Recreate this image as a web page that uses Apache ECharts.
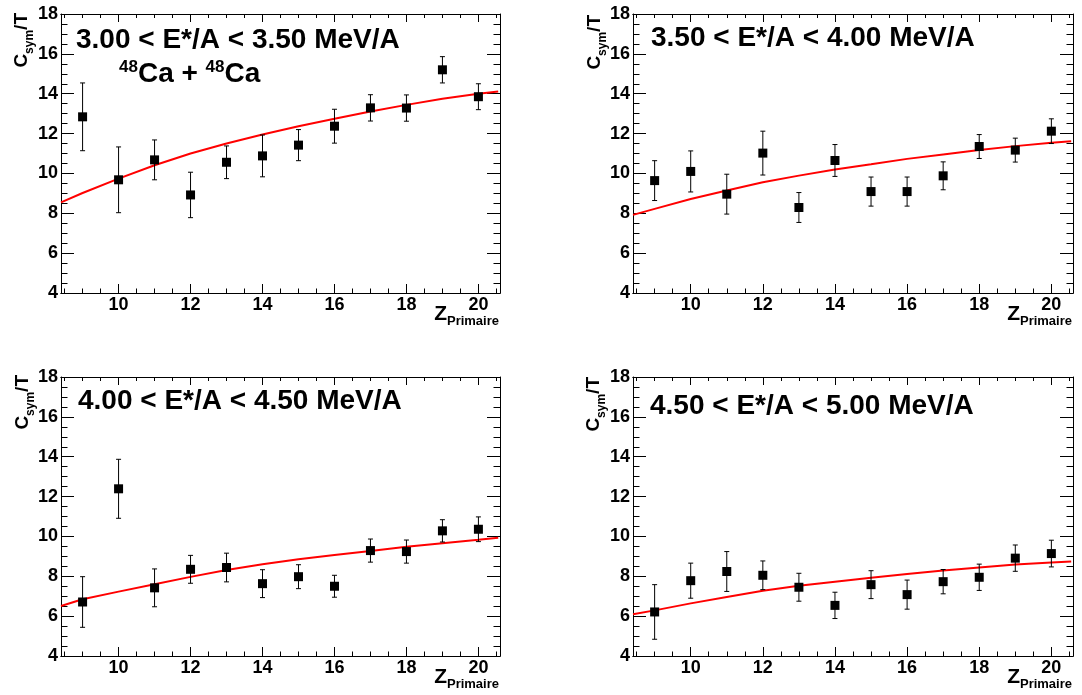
<!DOCTYPE html>
<html><head><meta charset="utf-8">
<script src="https://cdn.jsdelivr.net/npm/echarts@6/dist/echarts.min.js"></script>
<style>html,body{margin:0;padding:0;background:#fff}#c{width:1082px;height:695px}</style>
</head><body><div id="c"></div>
<script>
// ---------------- data ----------------
const Z = [9, 10, 11, 12, 13, 14, 15, 16, 17, 18, 19, 20];
const panelTitles = [
  '3.00 < E*/A < 3.50 MeV/A',
  '3.50 < E*/A < 4.00 MeV/A',
  '4.00 < E*/A < 4.50 MeV/A',
  '4.50 < E*/A < 5.00 MeV/A'
];
const systemLabel = ['48', 'Ca + ', '48', 'Ca'];
const yTitle = ['C', 'sym', '/T'];
const xTitle = ['Z', 'Primaire'];

const p1Values = [12.84, 9.68, 10.68, 8.92, 10.56, 10.88, 11.42, 12.37, 13.29, 13.28, 15.20, 13.85];
const p1Errors = [1.70, 1.65, 1.00, 1.14, 0.82, 1.05, 0.78, 0.85, 0.66, 0.66, 0.66, 0.65];
const p2Values = [9.64, 10.10, 8.96, 11.02, 8.29, 10.65, 9.09, 9.09, 9.88, 11.35, 11.17, 12.12];
const p2Errors = [1.00, 1.03, 1.00, 1.10, 0.75, 0.80, 0.73, 0.73, 0.70, 0.60, 0.60, 0.62];
const p3Values = [6.71, 12.39, 7.42, 8.35, 8.44, 7.63, 7.98, 7.50, 9.29, 9.24, 10.28, 10.36];
const p3Errors = [1.27, 1.48, 0.95, 0.70, 0.72, 0.70, 0.60, 0.55, 0.58, 0.58, 0.56, 0.62];
const p4Values = [6.21, 7.78, 8.24, 8.05, 7.45, 6.54, 7.58, 7.08, 7.73, 7.95, 8.91, 9.14];
const p4Errors = [1.37, 0.88, 1.00, 0.72, 0.70, 0.66, 0.70, 0.73, 0.61, 0.66, 0.66, 0.67];

const fitZ  = [8.4, 9, 10, 11, 12, 13, 14, 15, 16, 17, 18, 19, 20, 20.55];
const p1Fit = [8.55, 9.02, 9.74, 10.41, 11.00, 11.50, 11.95, 12.37, 12.74, 13.11, 13.44, 13.75, 14.00, 14.11];
const p2Fit = [7.92, 8.22, 8.72, 9.14, 9.56, 9.89, 10.20, 10.46, 10.73, 10.95, 11.17, 11.37, 11.54, 11.62];
const p3Fit = [6.51, 6.85, 7.23, 7.60, 7.97, 8.32, 8.60, 8.86, 9.07, 9.27, 9.48, 9.66, 9.83, 9.93];
const p4Fit = [6.09, 6.29, 6.64, 6.96, 7.27, 7.52, 7.73, 7.93, 8.12, 8.29, 8.44, 8.59, 8.69, 8.74];

const xMajorTicks = [10, 12, 14, 16, 18, 20];
const xMinorTicks = [8.5, 9, 9.5, 10.5, 11, 11.5, 12.5, 13, 13.5, 14.5, 15, 15.5, 16.5, 17, 17.5, 18.5, 19, 19.5, 20.5];
const xRange = [8.4, 20.6];
const yRange = [4, 18];
const yStep = 2;

// ---------------- layout / style ----------------
const FONT = '"Liberation Sans", Arial, Helvetica, sans-serif';
const grids = [
  {left: 61,  top: 14,  width: 439, height: 279},
  {left: 633, top: 14,  width: 440, height: 279},
  {left: 61,  top: 377, width: 439, height: 279},
  {left: 633, top: 377, width: 440, height: 279}
];
const titlePos = [[76, 40], [651, 38], [78, 401], [650, 406]];
const yTitlePos = [[24, 13], [597, 15], [25, 375], [596, 377]];

const panels = [
  {values: p1Values, errors: p1Errors, fit: p1Fit},
  {values: p2Values, errors: p2Errors, fit: p2Fit},
  {values: p3Values, errors: p3Errors, fit: p3Fit},
  {values: p4Values, errors: p4Errors, fit: p4Fit}
];

const chart = echarts.init(document.getElementById('c'), null, {renderer: 'canvas'});

const xAxes = [], yAxes = [], series = [], graphics = [];
const black = '#000';
const labelStyle = {color: black, fontSize: 18, fontWeight: 'bold', fontFamily: FONT};

grids.forEach((g, gi) => {
  const baseX = {
    type: 'value', gridIndex: gi, min: xRange[0], max: xRange[1],
    splitLine: {show: false},
    axisLine: {show: true, onZero: false, lineStyle: {color: black, width: 1}}
  };
  xAxes.push(Object.assign({}, baseX, {
    position: 'bottom',
    axisTick: {show: true, inside: true, length: 9, customValues: xMajorTicks, lineStyle: {color: black, width: 1}},
    axisLabel: Object.assign({show: true, customValues: xMajorTicks, margin: 3}, labelStyle)
  }));
  xAxes.push(Object.assign({}, baseX, {
    position: 'bottom',
    axisTick: {show: true, inside: true, length: 4.5, customValues: xMinorTicks, lineStyle: {color: black, width: 1}},
    axisLabel: {show: false}
  }));
  xAxes.push(Object.assign({}, baseX, {
    position: 'top',
    axisTick: {show: true, inside: true, length: 8, customValues: xMajorTicks, lineStyle: {color: black, width: 1}},
    axisLabel: {show: false}
  }));
  xAxes.push(Object.assign({}, baseX, {
    position: 'top',
    axisTick: {show: true, inside: true, length: 4, customValues: xMinorTicks, lineStyle: {color: black, width: 1}},
    axisLabel: {show: false}
  }));

  const baseY = {
    type: 'value', gridIndex: gi, min: yRange[0], max: yRange[1], interval: yStep,
    splitLine: {show: false},
    axisLine: {show: true, onZero: false, lineStyle: {color: black, width: 1}},
    axisTick: {show: true, inside: true, length: 13, lineStyle: {color: black, width: 1}},
    minorTick: {show: true, splitNumber: 4, length: 6.5, lineStyle: {color: black, width: 1}},
    minorSplitLine: {show: false}
  };
  yAxes.push(Object.assign({}, baseY, {
    position: 'left',
    axisLabel: Object.assign({show: true, margin: 3}, labelStyle)
  }));
  yAxes.push(Object.assign({}, baseY, {
    position: 'right',
    axisLabel: {show: false}
  }));

  const p = panels[gi];
  const xi = gi * 4, yi = gi * 2;

  series.push({
    type: 'line', xAxisIndex: xi, yAxisIndex: yi,
    data: fitZ.map((z, i) => [z, p.fit[i]]),
    symbol: 'none', smooth: false,
    lineStyle: {color: '#ff0000', width: 2, opacity: 1},
    z: 2, silent: true
  });
  series.push({
    type: 'custom', xAxisIndex: xi, yAxisIndex: yi,
    data: Z.map((z, i) => [z, p.values[i] - p.errors[i], p.values[i] + p.errors[i]]),
    encode: {x: 0, y: [1, 2]},
    renderItem: function (params, api) {
      const x = api.value(0), lo = api.value(1), hi = api.value(2);
      const a = api.coord([x, hi]), b = api.coord([x, lo]);
      const cap = 2.5;
      const st = {stroke: black, lineWidth: 1};
      return {type: 'group', children: [
        {type: 'line', shape: {x1: a[0], y1: a[1], x2: b[0], y2: b[1]}, style: st},
        {type: 'line', shape: {x1: a[0] - cap, y1: a[1], x2: a[0] + cap, y2: a[1]}, style: st},
        {type: 'line', shape: {x1: b[0] - cap, y1: b[1], x2: b[0] + cap, y2: b[1]}, style: st}
      ]};
    },
    z: 3, silent: true
  });
  series.push({
    type: 'scatter', xAxisIndex: xi, yAxisIndex: yi,
    data: Z.map((z, i) => [z, p.values[i]]),
    symbol: 'rect', symbolSize: 9,
    itemStyle: {color: black, opacity: 1},
    z: 4, silent: true
  });

  graphics.push({
    type: 'text', x: titlePos[gi][0], y: titlePos[gi][1],
    style: {
      text: panelTitles[gi], fill: black,
      fontSize: 28, fontWeight: 'bold', fontFamily: FONT,
      align: 'left', verticalAlign: 'middle', textAlign: 'left', textVerticalAlign: 'middle'
    }
  });
  graphics.push({
    type: 'text', x: yTitlePos[gi][0], y: yTitlePos[gi][1], rotation: Math.PI / 2,
    style: {
      text: '{m|' + yTitle[0] + '}{s|' + yTitle[1] + '}{m|' + yTitle[2] + '}',
      align: 'right', verticalAlign: 'middle', textAlign: 'right', textVerticalAlign: 'middle',
      rich: {
        m: {fontSize: 19, fontWeight: 'bold', fontFamily: FONT, fill: black, color: black, lineHeight: 24, verticalAlign: 'top'},
        s: {fontSize: 12, fontWeight: 'bold', fontFamily: FONT, fill: black, color: black, lineHeight: 14, verticalAlign: 'bottom'}
      }
    }
  });
  graphics.push({
    type: 'text', x: g.left + g.width - 1, y: g.top + g.height + 11,
    style: {
      text: '{m|' + xTitle[0] + '}{s|' + xTitle[1] + '}',
      align: 'right', verticalAlign: 'top', textAlign: 'right', textVerticalAlign: 'top',
      rich: {
        m: {fontSize: 21, fontWeight: 'bold', fontFamily: FONT, fill: black, color: black, lineHeight: 24, verticalAlign: 'top'},
        s: {fontSize: 13, fontWeight: 'bold', fontFamily: FONT, fill: black, color: black, lineHeight: 10, verticalAlign: 'bottom'}
      }
    }
  });
});

graphics.push({
  type: 'text', x: 119, y: 74,
  style: {
    text: '{u|' + systemLabel[0] + '}{b|' + systemLabel[1] + '}{u|' + systemLabel[2] + '}{b|' + systemLabel[3] + '}',
    align: 'left', verticalAlign: 'middle', textAlign: 'left', textVerticalAlign: 'middle',
    rich: {
      b: {fontSize: 28, fontWeight: 'bold', fontFamily: FONT, fill: black, color: black, lineHeight: 30, verticalAlign: 'middle'},
      u: {fontSize: 17, fontWeight: 'bold', fontFamily: FONT, fill: black, color: black, lineHeight: 16, verticalAlign: 'top'}
    }
  }
});

chart.setOption({
  backgroundColor: '#fff',
  animation: false,
  grid: grids.map(g => Object.assign({containLabel: false, outerBoundsMode: 'none', show: false}, g)),
  xAxis: xAxes,
  yAxis: yAxes,
  series: series,
  graphic: {elements: graphics}
});
</script>
</body></html>
